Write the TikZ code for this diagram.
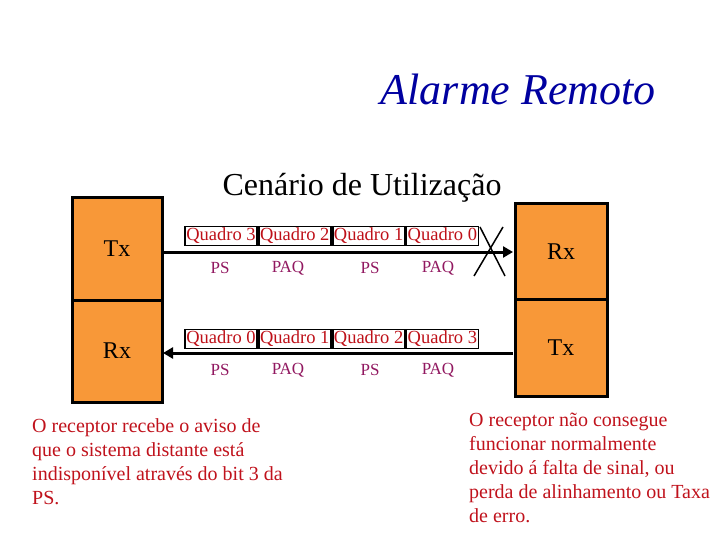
\documentclass[tikz,border=0pt]{standalone}
\usepackage{fontspec}
\setmainfont{Liberation Serif}
\usetikzlibrary{arrows.meta,positioning}
\definecolor{boxorange}{RGB}{248,152,56}
\definecolor{qred}{RGB}{190,16,24}
\definecolor{pspurple}{RGB}{145,24,96}
\definecolor{titleblue}{RGB}{0,0,160}
\definecolor{txtred}{RGB}{192,18,28}
\tikzset{
  unit/.style={draw=black,line width=3pt,fill=boxorange,minimum width=90pt,inner sep=0pt,font=\fontsize{24}{28}\selectfont},
  quadro/.style={draw=black,line width=1.8pt,text=qred,minimum width=72pt,minimum height=19pt,inner sep=0pt,font=\fontsize{18.5}{20}\selectfont},
  field/.style={text=pspurple,font=\fontsize{17}{19}\selectfont,inner sep=0pt},
  link/.style={line width=3pt,-{Triangle[length=10pt,width=11pt]}},
  note/.style={text=txtred,align=left,inner sep=0pt,font=\fontsize{20}{24}\selectfont,anchor=north west}
}
\begin{document}
\begin{tikzpicture}[x=1pt,y=-1pt]
\useasboundingbox (0,0) rectangle (720,540);
\node[text=titleblue,font=\fontsize{44}{48}\selectfont\itshape,anchor=base east,inner sep=0pt] (title) at (656,105) {Alarme Remoto};
\node[font=\fontsize{32}{36}\selectfont,anchor=base,inner sep=0pt] (sub) at (362,196) {Cenário de Utilização};
% left station
\node[unit,minimum height=102pt] (ltx) at (117,249) {Tx};
\node[unit,minimum height=102pt] (lrx) at (117,351) {Rx};
% right station
\node[unit,minimum height=95pt,minimum width=92pt] (rrx) at (561,251.5) {Rx};
\node[unit,minimum height=97pt,minimum width=92pt] (rtx) at (561,347.5) {Tx};
% links
\coordinate (l1a) at (162,252);
\coordinate (l1b) at (513,252);
\coordinate (l2a) at (513,353);
\coordinate (l2b) at (163,353);
\draw[link] (l1a) -- (l1b);
\draw[link] (l2a) -- (l2b);
% top frames
\node[quadro] (q3) at (221,236) {Quadro 3};
\node[quadro,right=0pt of q3] (q2) {Quadro 2};
\node[quadro,right=0pt of q2] (q1) {Quadro 1};
\node[quadro,right=0pt of q1] (q0) {Quadro 0};
\node[field] (ps1) at (220,268) {PS};
\node[field] (paq1) at (288,268) {PAQ};
\node[field] (ps2) at (370,268) {PS};
\node[field] (paq2) at (438,268) {PAQ};
% bottom frames
\node[quadro] (b0) at (221,339) {Quadro 0};
\node[quadro,right=0pt of b0] (b1) {Quadro 1};
\node[quadro,right=0pt of b1] (b2) {Quadro 2};
\node[quadro,right=0pt of b2] (b3) {Quadro 3};
\node[field] (ps3) at (220,370) {PS};
\node[field] (paq3) at (288,370) {PAQ};
\node[field] (ps4) at (370,370) {PS};
\node[field] (paq4) at (438,370) {PAQ};
% cross
\coordinate (xa) at (480,227);
\coordinate (xb) at (505,276);
\coordinate (xc) at (503,227);
\coordinate (xd) at (474,276);
\draw[line width=1.5pt] (xa) -- (xb);
\draw[line width=1.5pt] (xc) -- (xd);
% notes
\node[note] (n1) at (32,418) {O receptor recebe o aviso de\\que o sistema distante está\\indisponível através do bit 3 da\\PS.};
\node[note] (n2) at (469,413) {O receptor não consegue\\funcionar normalmente\\devido á falta de sinal, ou\\perda de alinhamento ou Taxa\\de erro.};
\end{tikzpicture}
\end{document}
